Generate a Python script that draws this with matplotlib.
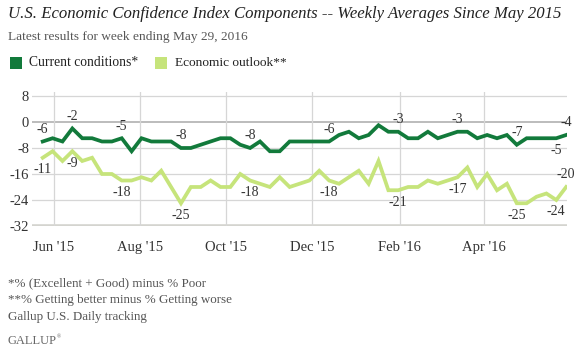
import matplotlib
matplotlib.use("Agg")
import matplotlib.pyplot as plt
import matplotlib.dates as mdates
from matplotlib.patches import Rectangle
import pandas as pd

weeks = pd.date_range("2015-05-24", "2016-05-29", freq="W-SUN")

current = [-6, -5, -6, -2, -5, -5, -6, -6, -5, -9, -5, -6, -6, -6, -8, -8, -7, -6,
           -5, -5, -7, -8, -6, -9, -9, -6, -6, -6, -6, -6, -4, -3, -5, -4, -1, -3,
           -3, -5, -5, -3, -5, -4, -3, -3, -5, -4, -5, -4, -7, -5, -5, -5, -5, -4]
outlook = [-11, -9, -12, -9, -12, -11, -16, -16, -18, -18, -17, -18, -15, -20, -25, -20, -20, -18,
           -20, -20, -16, -18, -19, -20, -17, -20, -19, -18, -15, -18, -19, -17, -15, -19, -12, -21,
           -21, -20, -20, -18, -19, -18, -17, -14, -20, -16, -21, -19, -25, -25, -23, -22, -24, -20]

# weeks that carry a value label
label_idx = [0, 3, 8, 14, 21, 29, 36, 42, 48, 52, 53]

month_ticks = pd.to_datetime(["2015-06-01", "2015-08-01", "2015-10-01",
                              "2015-12-01", "2016-02-01", "2016-04-01"])
month_labels = ["Jun '15", "Aug '15", "Oct '15", "Dec '15", "Feb '16", "Apr '16"]
y_ticks = [8, 0, -8, -16, -24, -32]

dark = "#127a3b"
light = "#c6e47b"
serif = "Liberation Serif"
W, H = 574, 354

fig = plt.figure(figsize=(W / 100, H / 100), dpi=100)
ax = fig.add_axes([32 / W, 1 - 226 / H, 535 / W, 134.3 / H])

x = mdates.date2num(weeks)
ax.set_xlim(x[0] - 7.6, x[-1] + 0.6)
ax.set_ylim(-32, 9.32)

for v in [8, -8, -16, -24]:
    ax.axhline(v, color="#d6d6d6", lw=0.9, zorder=1)
ax.axhline(0, color="#a9a9a9", lw=1.1, zorder=1)
ax.axhline(-32, color="#d4d4cf", lw=2.6, zorder=1)
for t in month_ticks:
    ax.axvline(mdates.date2num(t), color="#d6d6d6", lw=0.9, zorder=1)

ax.plot(x, outlook, color=light, lw=2.7, solid_joinstyle="miter", zorder=3)
ax.plot(x, current, color=dark, lw=2.7, solid_joinstyle="miter", zorder=4)

for i in label_idx:
    # current labels above, except the second to last week
    dy = -12 if i == 52 else 12
    ax.annotate(str(current[i]), (x[i], current[i]), xytext=(0, dy * 0.72),
                textcoords="offset points", ha="center", va="center",
                fontsize=10, family=serif, color="#333333", zorder=5)
    dy = 12 if i == 53 else -12
    ax.annotate(str(outlook[i]), (x[i], outlook[i]), xytext=(0, dy * 0.72),
                textcoords="offset points", ha="center", va="center",
                fontsize=10, family=serif, color="#333333", zorder=5)

for s in ax.spines.values():
    s.set_visible(False)
ax.set_yticks(y_ticks)
ax.set_yticklabels([str(v) for v in y_ticks], family=serif, fontsize=10.5, color="#333333")
ax.set_xticks(mdates.date2num(month_ticks))
ax.set_xticklabels(month_labels, family=serif, fontsize=10.5, color="#333333")
ax.tick_params(axis="y", length=0, pad=2)
ax.tick_params(axis="x", length=0, pad=11)

fig.text(8 / W, 1 - 14 / H,
         "U.S. Economic Confidence Index Components -- Weekly Averages Since May 2015",
         family=serif, style="italic", fontsize=12.1, color="#222222", va="center")
fig.text(8 / W, 1 - 37 / H, "Latest results for week ending May 29, 2016",
         family=serif, fontsize=9.6, color="#555555", va="center")

fig.add_artist(Rectangle((10 / W, 1 - 69 / H), 12 / W, 12 / H, transform=fig.transFigure,
                         color=dark, lw=0))
fig.text(29 / W, 1 - 63 / H, "Current conditions*", family=serif, fontsize=9.8,
         color="#222222", va="center")
fig.add_artist(Rectangle((155 / W, 1 - 69 / H), 12 / W, 12 / H, transform=fig.transFigure,
                         color=light, lw=0))
fig.text(175 / W, 1 - 63 / H, "Economic outlook**", family=serif, fontsize=9.6,
         color="#222222", va="center")

notes = ["*% (Excellent + Good) minus % Poor",
         "**% Getting better minus % Getting worse",
         "Gallup U.S. Daily tracking"]
for k, line in enumerate(notes):
    fig.text(8 / W, 1 - (283 + 17 * k) / H, line, family=serif, fontsize=9.4,
             color="#555555", va="center")
fig.text(8 / W, 1 - 341 / H, "GALLUP", family=serif, fontsize=9,
         color="#666666", va="center")
fig.text(57 / W, 1 - 337 / H, "\u00ae", family=serif, fontsize=4,
         color="#666666", va="center")

fig.savefig("out.png", dpi=100)
